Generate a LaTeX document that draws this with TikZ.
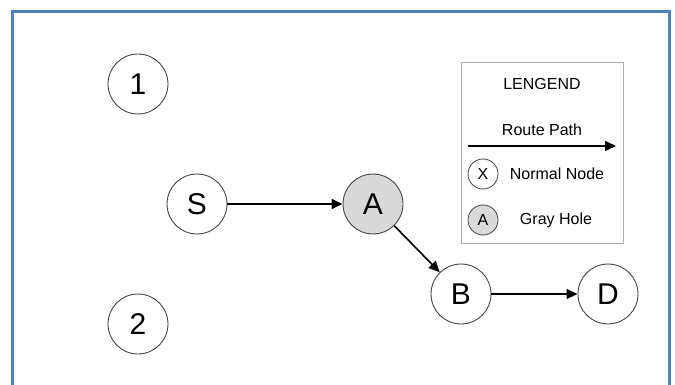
\documentclass[tikz,border=0pt]{standalone}
\usepackage{fontspec}
\setmainfont{Liberation Sans}
\usetikzlibrary{arrows.meta}
\definecolor{frameblue}{RGB}{79,129,189}
\definecolor{nodeline}{RGB}{70,70,70}
\definecolor{holegray}{RGB}{217,217,217}
\begin{document}
\begin{tikzpicture}[x=1pt,y=-1pt,
  netnode/.style={circle,draw=nodeline,line width=0.9pt,minimum size=60pt,inner sep=0pt,font=\fontsize{30}{30}\selectfont},
  holenode/.style={netnode,fill=holegray},
  smallnode/.style={circle,draw=nodeline,line width=0.8pt,minimum size=30pt,inner sep=0pt,font=\fontsize{16}{16}\selectfont},
  smallhole/.style={smallnode,fill=holegray},
  legtext/.style={font=\fontsize{16}{16}\selectfont,inner sep=0pt},
  route/.style={line width=1.6pt,-{Triangle[length=11pt,width=10pt]}}
]
\useasboundingbox (0,0) rectangle (675,385);
\fill[white] (0,0) rectangle (675,385);
\draw[frameblue,line width=3pt] (12,390) -- (12,12) -- (669,12) -- (669,390);

\node[netnode] (n1) at (138,84) {1};
\node[netnode] (n2) at (138,324) {2};
\node[netnode] (S) at (197,204) {S};
\node[holenode] (A) at (373,204) {A};
\node[netnode] (B) at (461,294) {B};
\node[netnode] (D) at (608,294) {D};

\draw[route] (S) -- (A);
\draw[route] (A) -- (B);
\draw[route] (B) -- (D);

% legend
\node[draw=holegray!80!black,line width=0.8pt,minimum width=162pt,minimum height=181pt,inner sep=0pt] (leg) at (542,152.5) {};
\node[legtext] (lt) at (542,84) {LENGEND};
\node[legtext] (rp) at (542,130) {Route Path};
\coordinate (ra) at (468,146);
\coordinate (rb) at (616,146);
\draw[route] (ra) -- (rb);
\node[smallnode] (lx) at (483,174) {X};
\node[legtext] (nn) at (557,174) {Normal Node};
\node[smallhole] (la) at (483,220) {A};
\node[legtext] (gh) at (556,220) {Gray Hole};
\end{tikzpicture}
\end{document}
